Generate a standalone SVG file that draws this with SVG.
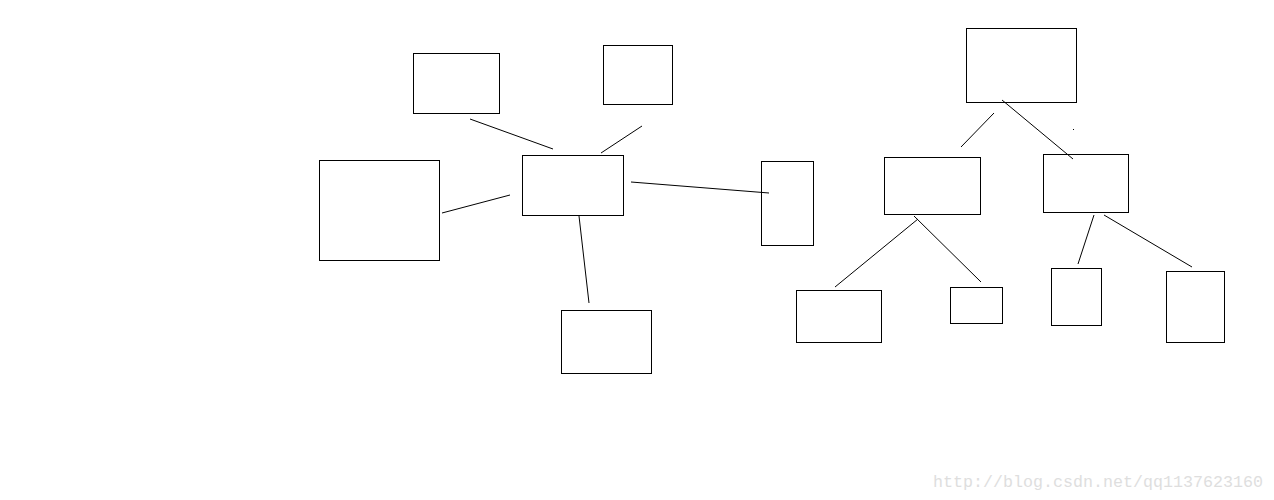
<svg xmlns="http://www.w3.org/2000/svg" width="1274" height="500" viewBox="0 0 1274 500">
<style>
.n rect{fill:#fff;stroke:#000;stroke-width:1;shape-rendering:crispEdges}
.c line{stroke:#000;stroke-width:1}
.wm{font-family:"Liberation Mono","DejaVu Sans Mono",monospace;font-size:16px;fill:#dedede}
</style>
<rect width="1274" height="500" fill="#fff"/>
<g id="n1" class="n"><rect x="413.5" y="53.5" width="86" height="60"/></g>
<g id="n2" class="n"><rect x="603.5" y="45.5" width="69" height="59"/></g>
<g id="n3" class="n"><rect x="319.5" y="160.5" width="120" height="100"/></g>
<g id="n4" class="n"><rect x="522.5" y="155.5" width="101" height="60"/></g>
<g id="n5" class="n"><rect x="761.5" y="161.5" width="52" height="84"/></g>
<g id="n6" class="n"><rect x="561.5" y="310.5" width="90" height="63"/></g>
<g id="t1" class="n"><rect x="966.5" y="28.5" width="110" height="74"/></g>
<g id="t2" class="n"><rect x="884.5" y="157.5" width="96" height="57"/></g>
<g id="t3" class="n"><rect x="1043.5" y="154.5" width="85" height="58"/></g>
<g id="t4" class="n"><rect x="796.5" y="290.5" width="85" height="52"/></g>
<g id="t5" class="n"><rect x="950.5" y="287.5" width="52" height="36"/></g>
<g id="t6" class="n"><rect x="1051.5" y="268.5" width="50" height="57"/></g>
<g id="t7" class="n"><rect x="1166.5" y="271.5" width="58" height="71"/></g>
<g id="connectors" class="c">
<line x1="470" y1="119" x2="553" y2="149"/>
<line x1="642" y1="126" x2="601" y2="153"/>
<line x1="442" y1="213" x2="510" y2="195"/>
<line x1="631" y1="182" x2="769" y2="193"/>
<line x1="579" y1="216" x2="589" y2="303"/>
<line x1="994" y1="113" x2="961" y2="147"/>
<line x1="1002" y1="100" x2="1073" y2="159"/>
<line x1="918" y1="219" x2="835" y2="287"/>
<line x1="914" y1="216" x2="981" y2="282"/>
<line x1="1094" y1="215" x2="1078" y2="264"/>
<line x1="1104" y1="215" x2="1192" y2="267"/>
</g>
<rect x="1073" y="129" width="1" height="1" fill="#000"/>
<text class="wm" x="933" y="487" textLength="330" lengthAdjust="spacingAndGlyphs">http://blog.csdn.net/qq1137623160</text>
</svg>
